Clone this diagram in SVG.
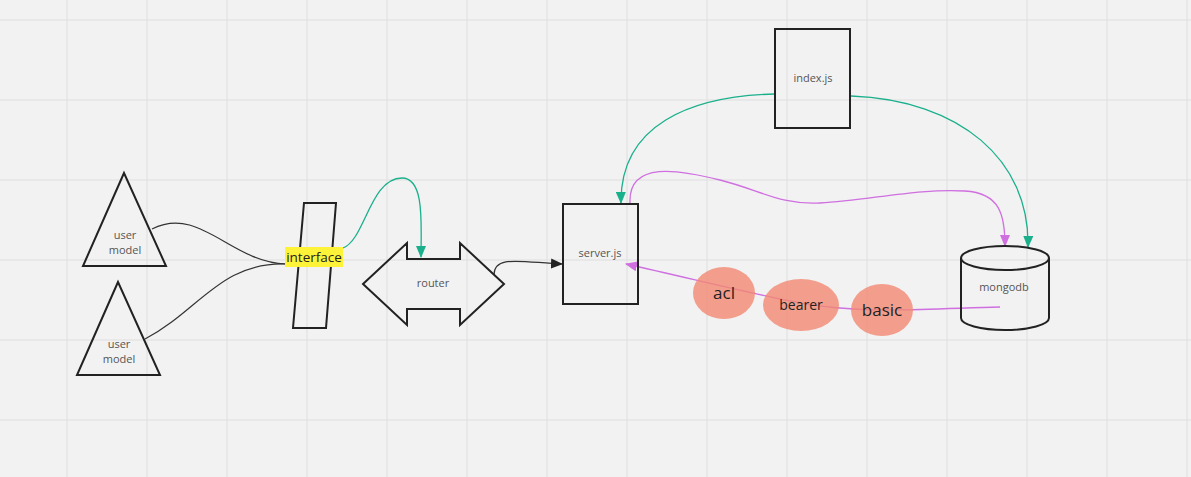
<svg xmlns="http://www.w3.org/2000/svg" width="1191" height="477" viewBox="0 0 1191 477">
<style>
.shape{fill:none;stroke:#222;stroke-width:2;stroke-linejoin:miter}
.lbl{font-family:"Open Sans","Liberation Sans",sans-serif;font-size:11px;fill:#555;text-anchor:middle}
.dark{font-family:"Open Sans","Liberation Sans",sans-serif;fill:#222;text-anchor:middle}
.grid line{stroke:#e4e4e4;stroke-width:1.5}
.c-black{fill:none;stroke:#333;stroke-width:1.2}
.c-green{fill:none;stroke:#1ab08c;stroke-width:1.3}
.c-purple{fill:none;stroke:#cf6fe0;stroke-width:1.3}
.oval{fill:#f28872;fill-opacity:0.8}
</style>
<defs>
<marker id="ah-black" viewBox="0 0 12 10" refX="11" refY="5" markerWidth="12" markerHeight="10" markerUnits="userSpaceOnUse" orient="auto"><path d="M0,0 L12,5 L0,10 Z" fill="#222"/></marker>
<marker id="ah-green" viewBox="0 0 12 10" refX="11" refY="5" markerWidth="12" markerHeight="10" markerUnits="userSpaceOnUse" orient="auto"><path d="M0,0 L12,5 L0,10 Z" fill="#1ab08c"/></marker>
<marker id="ah-purple" viewBox="0 0 12 10" refX="11" refY="5" markerWidth="12" markerHeight="10" markerUnits="userSpaceOnUse" orient="auto"><path d="M0,0 L12,5 L0,10 Z" fill="#cf6fe0"/></marker>
</defs>
<rect x="0" y="0" width="1191" height="477" fill="#f2f2f2"/>
<g class="grid">
<line x1="67" y1="0" x2="67" y2="477"/><line x1="147" y1="0" x2="147" y2="477"/><line x1="227" y1="0" x2="227" y2="477"/><line x1="307" y1="0" x2="307" y2="477"/><line x1="387" y1="0" x2="387" y2="477"/><line x1="467" y1="0" x2="467" y2="477"/><line x1="547" y1="0" x2="547" y2="477"/><line x1="627" y1="0" x2="627" y2="477"/><line x1="707" y1="0" x2="707" y2="477"/><line x1="787" y1="0" x2="787" y2="477"/><line x1="867" y1="0" x2="867" y2="477"/><line x1="947" y1="0" x2="947" y2="477"/><line x1="1027" y1="0" x2="1027" y2="477"/><line x1="1107" y1="0" x2="1107" y2="477"/><line x1="1187" y1="0" x2="1187" y2="477"/>
<line x1="0" y1="20" x2="1191" y2="20"/><line x1="0" y1="100" x2="1191" y2="100"/><line x1="0" y1="180" x2="1191" y2="180"/><line x1="0" y1="260" x2="1191" y2="260"/><line x1="0" y1="340" x2="1191" y2="340"/><line x1="0" y1="420" x2="1191" y2="420"/>
</g>
<g id="connectors">
<path class="c-black" d="M152,229 C200,205 230,262 286,264"/>
<path class="c-black" d="M145,339 C200,310 220,262 286,264"/>
<path class="c-green" marker-end="url(#ah-green)" d="M343,248 C365,240 370,178 402,178 C425,178 421,225 421,257"/>
<path class="c-black" marker-end="url(#ah-black)" d="M494,275 C494,255 520,262 562,264"/>
<path class="c-green" marker-end="url(#ah-green)" d="M775,94 C690,96 620,125 621,203"/>
<path class="c-green" marker-end="url(#ah-green)" d="M851,96 C960,100 1030,160 1028,247"/>
<path class="c-purple" marker-end="url(#ah-purple)" d="M630,203 C628,160 680,170 720,180 C760,190 780,205 820,203 C870,200 920,188 965,191 C1000,193 1005,215 1005,246"/>
<path class="c-purple" marker-end="url(#ah-purple)" d="M1000,307 C930,309 880,312 840,308 C790,304 720,285 626,264"/>
</g>
<g id="user-model-1"><polygon class="shape" points="124,173 83,266 166,266"/><text class="lbl" x="125" y="239">user</text><text class="lbl" x="125" y="254">model</text></g>
<g id="user-model-2"><polygon class="shape" points="118,282 77,375 160,375"/><text class="lbl" x="119" y="348">user</text><text class="lbl" x="119" y="363">model</text></g>
<g id="interface"><polygon class="shape" points="304,203 336,203 326,328 293,328"/><rect x="285" y="247" width="58" height="20" fill="#fff33a"/><text class="dark" x="314" y="262" font-size="13.5">interface</text></g>
<g id="router"><polygon class="shape" points="363,284 407,243 407,259 460,259 460,243 504,284 460,325 460,309 407,309 407,325"/><text class="lbl" x="433" y="287">router</text></g>
<g id="server"><rect class="shape" x="563" y="204" width="75" height="100"/><text class="lbl" x="600" y="257">server.js</text></g>
<g id="index"><rect class="shape" x="775" y="29" width="75" height="99"/><text class="lbl" x="813" y="82">index.js</text></g>
<g id="mongodb"><path class="shape" d="M961,258 L961,318 A44,12 0 0 0 1049,318 L1049,258"/><ellipse class="shape" cx="1005" cy="258" rx="44" ry="12"/><text class="lbl" x="1004" y="291">mongodb</text></g>
<g id="acl"><ellipse class="oval" cx="724" cy="293" rx="31" ry="26"/><text class="dark" x="724" y="299" font-size="17">acl</text></g>
<g id="bearer"><ellipse class="oval" cx="801" cy="305" rx="38" ry="26"/><text class="dark" x="801" y="310" font-size="14">bearer</text></g>
<g id="basic"><ellipse class="oval" cx="882" cy="310" rx="31" ry="26"/><text class="dark" x="882" y="316" font-size="17">basic</text></g>
</svg>
